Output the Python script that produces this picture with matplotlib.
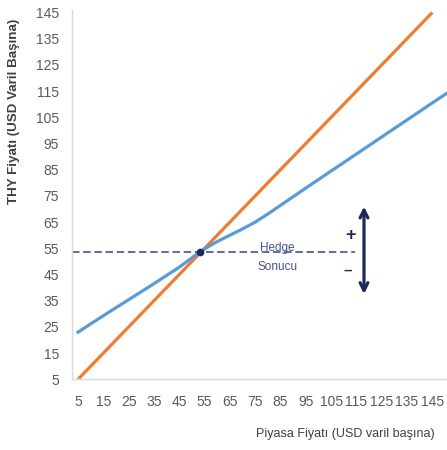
import matplotlib
matplotlib.use('Agg')
from matplotlib import pyplot as plt

# market price (USD per barrel) vs THY price
market = [5, 145]
thy_unhedged = [5, 145]

blue_x = [5, 15, 25, 35, 45, 53, 55, 60, 65, 70, 75, 80, 85, 95, 105, 115, 125, 135, 145, 152]
blue_y = [23, 29.3, 35.4, 41.5, 47.8, 53.5, 54.8, 57.6, 60, 62.4, 65, 68.1, 71.4, 78, 84.5, 91, 97.5, 104, 110.5, 115]

hedge_level = 53.5
hedge_x = [2.5, 114.5]
cross_point = (53.2, 53.5)

ticks = list(range(5, 146, 10))

plt.rcParams['font.family'] = ['Liberation Sans', 'DejaVu Sans']

fig = plt.figure(figsize=[4.47, 4.5], dpi=100)
ax = fig.add_axes([0.1604, 0.157, 0.8396, 0.821])

ax.plot(market, thy_unhedged, color='#ED7D31', lw=2.3, solid_capstyle='butt')
ax.plot(blue_x, blue_y, color='#5B9BD5', lw=2.3, solid_joinstyle='round')
ax.plot(hedge_x, [hedge_level, hedge_level], color='#44548A', lw=1.2, dashes=(4.5, 2.2))
ax.plot([cross_point[0]], [cross_point[1]], 'o', color='#1A2A5A', ms=4.5, zorder=5)

ax.text(83.7, 55, 'Hedge', ha='center', va='center', fontsize=8.5, color='#44548A')
ax.text(83.7, 47.7, 'Sonucu', ha='center', va='center', fontsize=8.5, color='#44548A')
ax.text(112.5, 60, '+', ha='center', va='center', fontsize=13, fontweight='bold', color='#1A2A5A')
ax.text(111.7, 46.5, '\u2013', ha='center', va='center', fontsize=11, fontweight='bold', color='#1A2A5A')
ax.annotate('', xy=(118, 72), xytext=(118, 36.5),
            arrowprops=dict(arrowstyle='<->', color='#1A2A5A', lw=2.3, mutation_scale=14))

ax.set_xlim(2.5, 150.8)
ax.set_ylim(5, 146)
ax.set_xticks(ticks)
ax.set_yticks(ticks)
ax.tick_params(length=0, labelsize=10, labelcolor='#595959')
ax.tick_params(axis='x', pad=11.5)
ax.tick_params(axis='y', pad=9)

for s in ['top', 'right']:
    ax.spines[s].set_visible(False)
for s in ['left', 'bottom']:
    ax.spines[s].set_color('#D9D9D9')
    ax.spines[s].set_linewidth(1.0)

fig.text(0.032, 0.753, 'THY Fiyatı (USD Varil Başına)', rotation=90, ha='center', va='center',
         fontsize=9.6, fontweight='bold', color='#404040')
fig.text(0.772, 0.036, 'Piyasa Fiyatı (USD varil başına)', ha='center', va='center',
         fontsize=9, color='#404040')

fig.savefig('out.png', dpi=100)
